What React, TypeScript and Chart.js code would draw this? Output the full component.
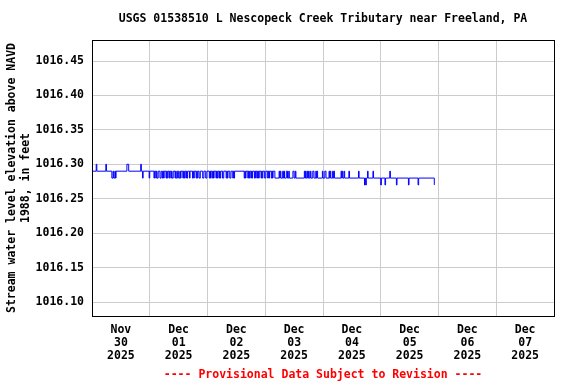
import React, { useEffect, useRef } from 'react';
import { Chart, registerables } from 'chart.js';

Chart.register(...registerables);

const chartTitle = 'USGS 01538510 L Nescopeck Creek Tributary near Freeland, PA';
const footerText = '---- Provisional Data Subject to Revision ----';
const yAxisTitle = ['Stream water level elevation above NAVD', '1988, in feet'];

const dayLabels = [
  ['Nov', '30', '2025'],
  ['Dec', '01', '2025'],
  ['Dec', '02', '2025'],
  ['Dec', '03', '2025'],
  ['Dec', '04', '2025'],
  ['Dec', '05', '2025'],
  ['Dec', '06', '2025'],
  ['Dec', '07', '2025'],
];
const xTickHours = [12, 36, 60, 84, 108, 132, 156, 180];
const xMin = 0;
const xMax = 192;

const yTicks = [1016.1, 1016.15, 1016.2, 1016.25, 1016.3, 1016.35, 1016.4, 1016.45];
const yMin = 1016.0797;
const yMax = 1016.4805;

// [hour of day, water level (ft)] at each change of reading, 15-minute data
const nov30: [number, number][] = [
  [0, 1016.29], [1.75, 1016.30], [2.0, 1016.29], [5.75, 1016.30], [6.0, 1016.29],
  [8.25, 1016.28], [8.75, 1016.29], [9.0, 1016.28], [9.5, 1016.29], [9.75, 1016.28], [10.0, 1016.29],
  [14.5, 1016.30], [15.25, 1016.29], [20.25, 1016.30], [20.5, 1016.29],
  [21.0, 1016.28], [21.25, 1016.29], [23.75, 1016.28],
];
const dec01: [number, number][] = [
  [0, 1016.29], [1.75, 1016.28], [2.0, 1016.29], [2.5, 1016.28], [2.75, 1016.29],
  [3.0, 1016.28], [3.5, 1016.29], [4.25, 1016.28], [4.75, 1016.29],
  [5.25, 1016.28], [5.5, 1016.29], [5.75, 1016.28], [6.0, 1016.29],
  [6.75, 1016.28], [7.0, 1016.29], [7.25, 1016.28], [7.5, 1016.29],
  [8.0, 1016.28], [8.25, 1016.29], [8.75, 1016.28], [9.0, 1016.29], [9.25, 1016.28], [9.75, 1016.29],
  [10.5, 1016.28], [10.75, 1016.29], [11.0, 1016.28], [11.5, 1016.29],
  [12.0, 1016.28], [12.5, 1016.29], [12.75, 1016.28], [13.0, 1016.29],
  [13.75, 1016.28], [14.0, 1016.29], [14.25, 1016.28], [14.5, 1016.29],
  [15.0, 1016.28], [15.25, 1016.29], [15.5, 1016.28], [15.75, 1016.29],
  [16.5, 1016.28], [16.75, 1016.29],
  [17.75, 1016.28], [18.0, 1016.29], [18.25, 1016.28], [18.5, 1016.29],
  [19.25, 1016.28], [19.5, 1016.29], [19.75, 1016.28], [20.0, 1016.29],
  [20.5, 1016.28], [21.0, 1016.29], [22.0, 1016.28], [22.5, 1016.29],
  [23.25, 1016.28], [23.75, 1016.29],
];
const dec02: [number, number][] = [
  [0.75, 1016.28], [1.0, 1016.29], [1.25, 1016.28], [1.5, 1016.29],
  [2.0, 1016.28], [2.25, 1016.29], [2.5, 1016.28], [2.75, 1016.29],
  [3.5, 1016.28], [3.75, 1016.29], [4.0, 1016.28], [4.25, 1016.29],
  [4.75, 1016.28], [5.0, 1016.29], [5.25, 1016.28], [5.5, 1016.29],
  [6.25, 1016.28], [6.75, 1016.29],
  [7.75, 1016.28], [8.0, 1016.29], [8.25, 1016.28], [8.5, 1016.29],
  [9.25, 1016.28], [9.75, 1016.29],
  [10.5, 1016.28], [10.75, 1016.29], [11.0, 1016.28], [11.25, 1016.29],
  [15.25, 1016.28], [15.5, 1016.29], [15.75, 1016.28], [16.0, 1016.29],
  [16.75, 1016.28], [17.0, 1016.29], [17.25, 1016.28], [17.5, 1016.29],
  [18.0, 1016.28], [18.25, 1016.29], [18.5, 1016.28], [18.75, 1016.29],
  [19.5, 1016.28], [19.75, 1016.29], [20.0, 1016.28], [20.25, 1016.29],
  [20.75, 1016.28], [21.0, 1016.29], [21.25, 1016.28], [21.5, 1016.29],
  [22.25, 1016.28], [22.5, 1016.29], [22.75, 1016.28], [23.0, 1016.29],
  [23.75, 1016.28],
];
const dec03: [number, number][] = [
  [0.25, 1016.29], [1.0, 1016.28], [1.25, 1016.29], [1.5, 1016.28], [1.75, 1016.29],
  [2.5, 1016.28], [2.75, 1016.29], [3.0, 1016.28], [3.25, 1016.29],
  [4.0, 1016.28],
  [5.75, 1016.29], [6.0, 1016.28], [6.25, 1016.29], [6.5, 1016.28],
  [7.25, 1016.29], [7.5, 1016.28], [7.75, 1016.29], [8.0, 1016.28],
  [8.75, 1016.29], [9.25, 1016.28], [9.75, 1016.29], [10.0, 1016.28],
  [11.5, 1016.29], [12.0, 1016.28], [12.5, 1016.29], [12.75, 1016.28],
  [16.25, 1016.29], [16.5, 1016.28], [16.75, 1016.29], [17.0, 1016.28],
  [17.5, 1016.29], [17.75, 1016.28], [18.0, 1016.29], [18.25, 1016.28],
  [18.75, 1016.29], [19.0, 1016.28], [19.75, 1016.29], [20.25, 1016.28],
  [21.0, 1016.29], [21.25, 1016.28], [21.5, 1016.29], [21.75, 1016.28],
  [23.75, 1016.29],
];
const dec04: [number, number][] = [
  [0, 1016.28], [0.75, 1016.29], [1.25, 1016.28],
  [2.5, 1016.29], [2.75, 1016.28], [3.0, 1016.29], [3.25, 1016.28],
  [4.0, 1016.29], [4.25, 1016.28], [4.5, 1016.29], [4.75, 1016.28],
  [7.5, 1016.29], [7.75, 1016.28], [8.0, 1016.29], [8.25, 1016.28],
  [8.75, 1016.29], [9.0, 1016.28], [10.75, 1016.29], [11.0, 1016.28],
  [14.75, 1016.29], [15.0, 1016.28],
  [17.25, 1016.27], [17.5, 1016.28], [17.75, 1016.27], [18.0, 1016.28],
  [18.5, 1016.29], [18.75, 1016.28], [20.75, 1016.29], [21.0, 1016.28],
];
const dec05: [number, number][] = [
  [0, 1016.27], [0.25, 1016.28], [1.75, 1016.27], [2.0, 1016.28],
  [3.75, 1016.29], [4.0, 1016.28], [6.5, 1016.27], [6.75, 1016.28],
  [11.5, 1016.27], [11.75, 1016.28], [15.5, 1016.27], [15.75, 1016.28],
  [22.25, 1016.27],
];
const days = [nov30, dec01, dec02, dec03, dec04, dec05];

const FONT_FAMILY = '"DejaVu Sans Mono", monospace';
const FONT_SIZE = 11.5;

export default function App() {
  const ref = useRef<HTMLCanvasElement | null>(null);

  useEffect(() => {
    document.body.style.margin = '0';
    const canvas = ref.current;
    if (!canvas) return;

    const points = days.flatMap((day, d) => day.map(([h, v]) => ({ x: d * 24 + h, y: v })));

    const textPlugin = {
      id: 'usgsText',
      afterDraw(chart: any) {
        const { ctx, chartArea } = chart;
        const cx = (chartArea.left + chartArea.right) / 2;
        ctx.save();
        ctx.strokeStyle = '#000000';
        ctx.lineWidth = 1;
        ctx.strokeRect(chartArea.left + 0.5, chartArea.top + 0.5, chartArea.right - chartArea.left, chartArea.bottom - chartArea.top);
        ctx.font = `bold ${FONT_SIZE}px ${FONT_FAMILY}`;
        ctx.textAlign = 'center';
        ctx.textBaseline = 'middle';
        ctx.fillStyle = '#000000';
        ctx.fillText(chartTitle, cx, 19);
        ctx.fillStyle = '#ff0000';
        ctx.fillText(footerText, cx, 375);
        ctx.restore();
      },
    };

    const chart = new Chart(canvas, {
      type: 'line',
      data: {
        datasets: [
          {
            data: points,
            borderColor: '#0000ff',
            borderWidth: 1,
            pointRadius: 0,
            fill: false,
            stepped: true,
            tension: 0,
          },
        ],
      },
      options: {
        animation: false,
        responsive: false,
        devicePixelRatio: 1,
        parsing: false,
        layout: { padding: { left: 0, right: 22, top: 40, bottom: 0 } },
        plugins: {
          legend: { display: false },
          title: { display: false },
          tooltip: { enabled: false },
        },
        scales: {
          x: {
            type: 'linear',
            min: xMin,
            max: xMax,
            afterBuildTicks: (axis: any) => {
              axis.ticks = xTickHours.map((v) => ({ value: v }));
            },
            afterFit: (axis: any) => {
              axis.height = 68;
            },
            grid: { color: '#cccccc', lineWidth: 1, offset: true, drawTicks: false },
            border: { display: false },
            ticks: {
              autoSkip: false,
              maxRotation: 0,
              minRotation: 0,
              padding: 7.5,
              color: '#000000',
              font: { family: FONT_FAMILY, size: FONT_SIZE, weight: 'bold', lineHeight: '13px' },
              callback: (_v: any, i: number) => dayLabels[i],
            },
          },
          y: {
            type: 'linear',
            min: yMin,
            max: yMax,
            afterBuildTicks: (axis: any) => {
              axis.ticks = yTicks.map((v) => ({ value: v }));
            },
            afterFit: (axis: any) => {
              axis.width = 92;
            },
            grid: { color: '#cccccc', lineWidth: 1, drawTicks: false },
            border: { display: false },
            ticks: {
              padding: 8,
              color: '#000000',
              font: { family: FONT_FAMILY, size: FONT_SIZE, weight: 'bold' },
              callback: (v: any) => Number(v).toFixed(2),
            },
            title: {
              display: true,
              text: yAxisTitle,
              color: '#000000',
              padding: { top: 5, bottom: 0 },
              font: { family: FONT_FAMILY, size: FONT_SIZE, weight: 'bold', lineHeight: '14px' },
            },
          },
        },
      },
      plugins: [textPlugin],
    } as any);

    return () => chart.destroy();
  }, []);

  return (
    <div style={{ position: 'fixed', left: 0, top: 0, width: 576, height: 384, background: '#ffffff' }}>
      <canvas ref={ref} width={576} height={384} style={{ display: 'block', width: 576, height: 384 }} />
    </div>
  );
}
